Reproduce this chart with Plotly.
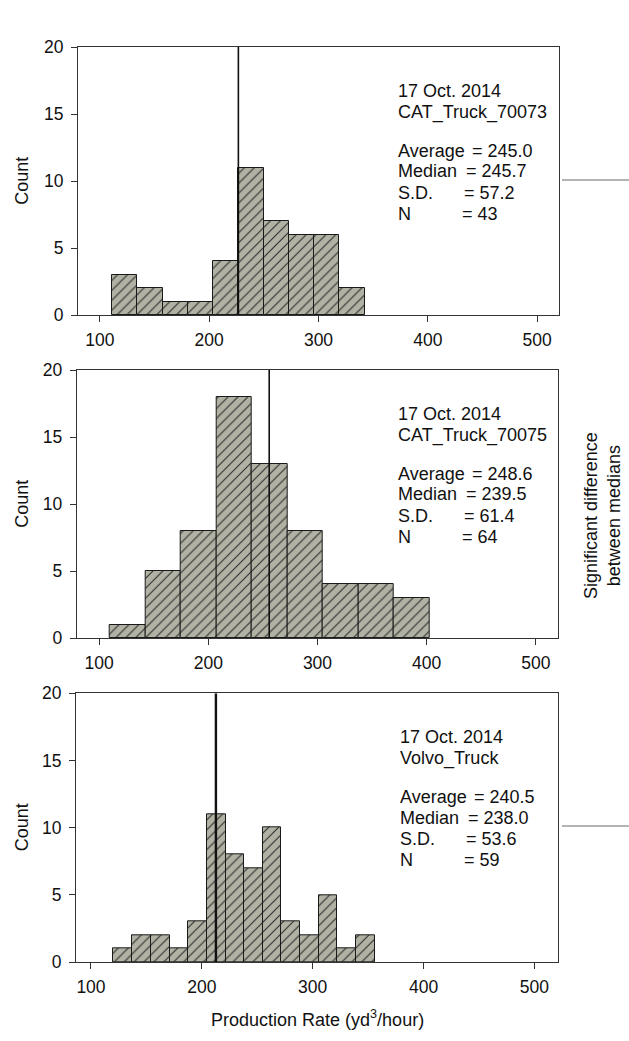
import plotly.graph_objects as go

W, H = 629, 1041

# ---------------- data ----------------
panel_dates = ["17 Oct. 2014", "17 Oct. 2014", "17 Oct. 2014"]
truck_names = ["CAT_Truck_70073", "CAT_Truck_70075", "Volvo_Truck"]
averages = ["245.0", "248.6", "240.5"]
medians = ["245.7", "239.5", "238.0"]
sds = ["57.2", "61.4", "53.6"]
ns = ["43", "64", "59"]

edges_70073 = [110.7, 134.2, 157.3, 180.6, 203.5, 226.7, 249.9, 273.1, 296.3, 319.2, 342.4]
counts_70073 = [3, 2, 1, 1, 4, 11, 7, 6, 6, 2]

edges_70075 = [110.1, 142.8, 174.9, 207.6, 240.0, 272.7, 304.8, 337.4, 369.9, 402.5]
counts_70075 = [1, 5, 8, 18, 13, 8, 4, 4, 3]

edges_volvo = [120.1, 137.3, 153.8, 171.0, 187.8, 204.4, 221.5, 238.0, 254.9,
               271.7, 288.5, 305.4, 322.2, 338.8, 356.2]
counts_volvo = [1, 2, 2, 1, 3, 11, 8, 7, 10, 3, 2, 5, 1, 2]

median_line_x = [226.7, 255.8, 212.7]

x_ticks = [100, 200, 300, 400, 500]
y_ticks = [0, 5, 10, 15, 20]

edges_all = [edges_70073, edges_70075, edges_volvo]
counts_all = [counts_70073, counts_70075, counts_volvo]

# ---------------- layout geometry (pixels) ----------------
panels_px = [  # x0, x1, ytop, ybottom
    (78.0, 559.0, 47.0, 315.0),
    (76.7, 557.7, 370.0, 638.0),
    (76.0, 557.7, 693.3, 962.0),
]
x_ranges = [[80, 520], [79.5, 520], [86.5, 521]]

FONT = "Liberation Sans, Arial, sans-serif"
FILL = "#b1b1a4"
EDGE = "#1a1a1a"
AX = "#333333"

fig = go.Figure()
layout = dict(
    width=W, height=H,
    margin=dict(l=0, r=0, t=0, b=0),
    paper_bgcolor="white", plot_bgcolor="white",
    showlegend=False, bargap=0,
    font=dict(family=FONT, size=18, color="#111111"),
)

annotations = []
shapes = []

for i in range(3):
    x0, x1, yt, yb = panels_px[i]
    xa = "xaxis" if i == 0 else f"xaxis{i+1}"
    ya = "yaxis" if i == 0 else f"yaxis{i+1}"
    xr = "x" if i == 0 else f"x{i+1}"
    yr = "y" if i == 0 else f"y{i+1}"
    edges = edges_all[i]
    counts = counts_all[i]
    centers = [(edges[k] + edges[k + 1]) / 2 for k in range(len(counts))]
    widths = [edges[k + 1] - edges[k] for k in range(len(counts))]
    fig.add_trace(go.Bar(
        x=centers, y=counts, width=widths, xaxis=xr, yaxis=yr,
        marker=dict(
            color=FILL,
            line=dict(color=EDGE, width=1),
            pattern=dict(shape="/", fillmode="replace", fgcolor="#2a2a2a",
                         bgcolor=FILL, size=7, solidity=0.15),
        ),
        hoverinfo="skip",
    ))
    layout[xa] = dict(
        domain=[x0 / W, x1 / W], range=x_ranges[i], anchor=yr,
        tickvals=x_ticks, ticks="outside", ticklen=6, tickwidth=1, tickcolor=AX,
        showline=True, linecolor=AX, linewidth=1, mirror=True,
        showgrid=False, zeroline=False, automargin=False,
        ticklabelstandoff=3,
        tickfont=dict(size=17.5, color="#111111"),
    )
    layout[ya] = dict(
        domain=[1 - yb / H, 1 - yt / H], range=[0, 20], anchor=xr,
        tickvals=y_ticks, ticks="outside", ticklen=6, tickwidth=1, tickcolor=AX,
        showline=True, linecolor=AX, linewidth=1, mirror=True,
        showgrid=False, zeroline=False, automargin=False,
        ticklabelstandoff=4,
        tickfont=dict(size=17.5, color="#111111"),
    )
    # median line
    shapes.append(dict(type="line", xref=xr, yref=yr,
                       x0=median_line_x[i], x1=median_line_x[i], y0=0, y1=20,
                       line=dict(color="#111111", width=1.6 if i < 2 else 2.4)))
    # Count label
    annotations.append(dict(text="Count", xref="paper", yref="paper",
                            x=21.7 / W, y=1 - (yt + yb) / 2 / H,
                            textangle=-90, showarrow=False,
                            xanchor="center", yanchor="middle",
                            font=dict(size=18)))
    # stats text
    tx = (395.7 if i < 2 else 397.7)
    offs = [44, 65, 104, 124.5, 145.5, 166.5]
    labels = [panel_dates[i], truck_names[i], "Average", "Median", "S.D.", "N"]
    for k, lab in enumerate(labels):
        annotations.append(dict(text=lab, xref="paper", yref="paper",
                                x=tx / W, y=1 - (yt + offs[k]) / H,
                                showarrow=False, xanchor="left", yanchor="middle",
                                font=dict(size=18)))
    vals = [averages[i], medians[i], sds[i], ns[i]]
    eq_off = [74, 68, 66, 64]
    for k, v in enumerate(vals):
        annotations.append(dict(text="= " + v, xref="paper", yref="paper",
                                x=(tx + eq_off[k]) / W, y=1 - (yt + offs[k + 2]) / H,
                                showarrow=False, xanchor="left", yanchor="middle",
                                font=dict(size=18)))

# x-axis title
annotations.append(dict(text="Production Rate (yd<sup>3</sup>/hour)", xref="paper", yref="paper",
                        x=317.5 / W, y=1 - 1018 / H, showarrow=False,
                        xanchor="center", yanchor="middle", font=dict(size=18)))
# significance label
annotations.append(dict(text="Significant difference<br>between medians", xref="paper", yref="paper",
                        x=602 / W, y=1 - 516 / H, showarrow=False, textangle=-90,
                        xanchor="center", yanchor="middle", font=dict(size=18)))
# bracket lines
for yy in (180, 826):
    shapes.append(dict(type="line", xref="paper", yref="paper",
                       x0=562 / W, x1=1.0, y0=1 - yy / H, y1=1 - yy / H,
                       line=dict(color="#6a6a6a", width=1.2)))

layout["annotations"] = annotations
layout["shapes"] = shapes
fig.update_layout(**layout)
fig.write_html(
    "out.html",
    config={"displayModeBar": False},
    post_script="document.body.style.margin='0';document.body.style.overflow='hidden';",
)
